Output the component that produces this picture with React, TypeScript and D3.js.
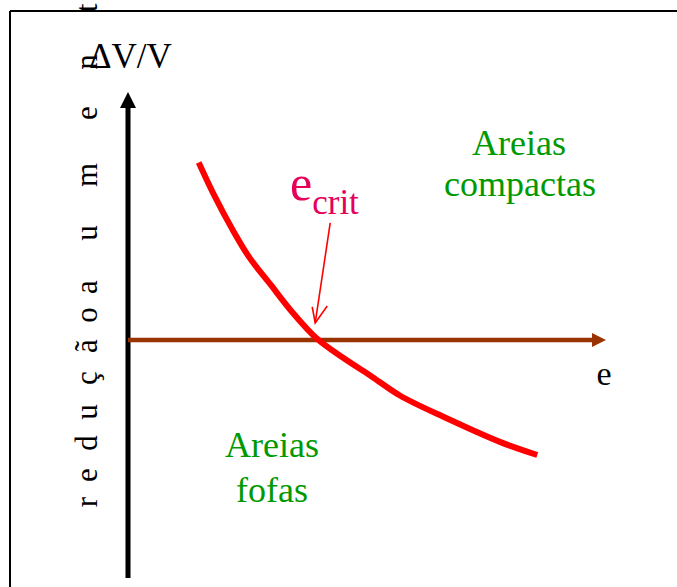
import React, { useEffect, useRef } from "react";
import * as d3 from "d3";

// Data: sketched curve of volume change vs void ratio
const curveE = [0.71, 0.87, 1.04, 1.22, 1.43, 1.65, 1.89, 2.16, 2.45, 2.73, 3.2, 3.74, 4.11];
const curveDV = [1.79, 1.45, 1.13, 0.83, 0.56, 0.28, 0.02, -0.18, -0.37, -0.56, -0.79, -1.03, -1.16];
const xDomain = [0, 4.8];
const yDomain = [-2.4, 2.5];
const critE = 1.89;
const yLabel = "ΔV/V";
const xLabel = "e";
const sideLetters = ["r", "e", "d", "u", "ç", "ã", "o", "a", "u", "m", "e", "n", "t"];
const sideLetterY = [502, 475, 443, 412, 378, 346, 315, 287, 233, 175, 113, 62, 8];
const labelTop = ["Areias", "compactas"];
const labelBottom = ["Areias", "fofas"];

const W = 677;
const H = 587;
const FONT = "Liberation Serif";

export default function App() {
  const ref = useRef<SVGSVGElement>(null);

  useEffect(() => {
    const svg = d3.select(ref.current);
    svg.selectAll("*").remove();

    const x = d3.scaleLinear().domain(xDomain).range([128, 606]);
    const y = d3.scaleLinear().domain(yDomain).range([578, 92]);
    const pts: [number, number][] = curveE.map((e, i) => [e, curveDV[i]]);
    const line = d3
      .line<[number, number]>()
      .x((d) => x(d[0]))
      .y((d) => y(d[1]))
      .curve(d3.curveCatmullRom.alpha(0.5));

    const x0 = x(0);
    const y0 = y(0);
    const yTip = y(yDomain[1]);
    const xTip = x(xDomain[1]);
    const green = "#009900";
    const crimson = "#e6005a";

    const txt = (g: any) => g.attr("font-family", FONT).style("font-family", `"${FONT}"`);

    // side rotated letters
    svg
      .selectAll("text.side")
      .data(sideLetters)
      .join("text")
      .attr("class", "side")
      .attr("transform", (_d, i) => `translate(97,${sideLetterY[i]}) rotate(-90)`)
      .attr("text-anchor", "middle")
      .attr("font-size", 31)
      .attr("fill", "#000")
      .call(txt)
      .text((d) => d);

    // frame
    svg.append("line").attr("x1", 10).attr("y1", 11).attr("x2", W).attr("y2", 11).attr("stroke", "#000").attr("stroke-width", 2);
    svg.append("line").attr("x1", 10).attr("y1", 11).attr("x2", 10).attr("y2", H).attr("stroke", "#000").attr("stroke-width", 2);

    // y axis
    svg.append("line").attr("x1", x0).attr("y1", H - 9).attr("x2", x0).attr("y2", yTip + 14).attr("stroke", "#000").attr("stroke-width", 5);
    svg.append("path").attr("d", `M${x0},${yTip} L${x0 - 8},${yTip + 16} L${x0 + 8},${yTip + 16} Z`).attr("fill", "#000");
    svg.append("text").attr("x", 89).attr("y", 68).attr("font-size", 35).attr("fill", "#000").call(txt).text(yLabel);

    // x axis
    svg.append("line").attr("x1", x0).attr("y1", y0).attr("x2", xTip - 13).attr("y2", y0).attr("stroke", "#993300").attr("stroke-width", 4.5);
    svg.append("path").attr("d", `M${xTip},${y0} L${xTip - 14},${y0 - 7} L${xTip - 14},${y0 + 7} Z`).attr("fill", "#993300");
    svg.append("text").attr("x", 604).attr("y", 385).attr("font-size", 34).attr("text-anchor", "middle").attr("fill", "#000").call(txt).text(xLabel);

    // curve
    svg.append("path").attr("d", line(pts) || "").attr("fill", "none").attr("stroke", "#ff0000").attr("stroke-width", 6);

    // e_crit
    const ec = svg.append("text").attr("x", 290).attr("y", 200).attr("fill", crimson).attr("font-size", 50).call(txt);
    ec.append("tspan").text("e");
    ec.append("tspan").attr("font-size", 35).attr("dy", 14).text("crit");

    const tipX = x(critE) - 1;
    const tipY = y0 - 17;
    svg.append("line").attr("x1", tipX + 15).attr("y1", tipY - 100).attr("x2", tipX).attr("y2", tipY).attr("stroke", "#ff0000").attr("stroke-width", 1.6);
    svg
      .append("path")
      .attr("d", `M${tipX - 3},${tipY - 16} L${tipX},${tipY} L${tipX + 12},${tipY - 17}`)
      .attr("fill", "none")
      .attr("stroke", "#ff0000")
      .attr("stroke-width", 1.6);

    // labels
    const lab = (t: string, lx: number, ly: number) =>
      svg.append("text").attr("x", lx).attr("y", ly).attr("font-size", 36).attr("fill", green).attr("text-anchor", "middle").call(txt).text(t);
    lab(labelTop[0], 519, 155);
    lab(labelTop[1], 520, 196);
    lab(labelBottom[0], 272, 457);
    lab(labelBottom[1], 272, 502);
  }, []);

  return <svg ref={ref} width={W} height={H} style={{ position: "absolute", left: 0, top: 0 }} />;
}
